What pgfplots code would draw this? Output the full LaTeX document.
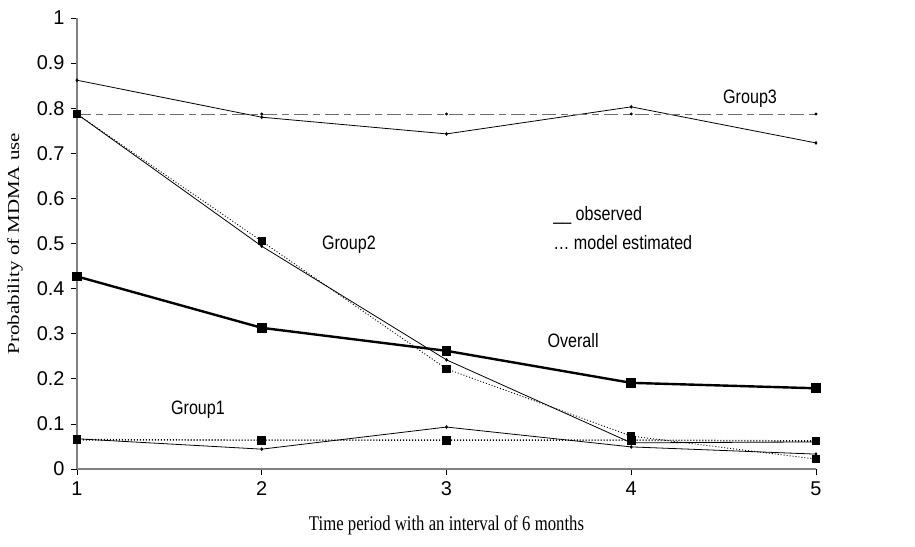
\documentclass[border=0pt]{standalone}
\usepackage{fontspec}
\setmainfont{Liberation Serif}
\setsansfont{Liberation Sans}
\usepackage{graphicx}
\usepackage{pgfplots}
\pgfplotsset{compat=1.18}
\definecolor{axisgray}{RGB}{128,128,128}
\definecolor{dashgray}{RGB}{110,110,110}
\newcommand{\TickFont}{\sffamily\fontsize{20}{22}\selectfont}
\newcommand{\NoteFont}{\sffamily\fontsize{19.5}{22}\selectfont}
\newcommand{\LabelFont}{\rmfamily\fontsize{21}{24}\selectfont}
\newcommand{\Note}[1]{\scalebox{0.83}[1]{#1}}
\tikzset{
  obs/.style={black, line width=0.8bp, mark=diamond*, mark size=1.3bp},
  est/.style={black, line width=1bp, dotted, mark=square*, mark size=3.6bp, mark options={solid}},
}

\begin{document}
\begin{tikzpicture}
\useasboundingbox (-77bp,-78bp) rectangle (838bp,469bp);
\begin{axis}[
    at={(0,0)}, anchor=south west,
    width=739bp, height=451bp, scale only axis,
    xmin=1, xmax=5, ymin=0, ymax=1,
    xtick={1,2,3,4,5},
    ytick={0,0.1,0.2,0.3,0.4,0.5,0.6,0.7,0.8,0.9,1},
    yticklabels={0,0.1,0.2,0.3,0.4,0.5,0.6,0.7,0.8,0.9,1},
    axis x line*=bottom, axis y line*=left,
    axis line style={draw=axisgray, line width=1.1bp, -},
    tick align=outside,
    major tick length=6bp,
    tick style={black, line width=0.6bp},
    x tick label style={font=\TickFont, yshift=-3bp},
    y tick label style={font=\TickFont, xshift=-3bp},
    /pgf/number format/assume math mode=true,
    xlabel={\scalebox{0.8}[1]{Time period with an interval of 6 months}},
    xlabel style={font=\LabelFont, at={(axis description cs:0.5,-0.124)}, anchor=center},
    ylabel={\scalebox{1}[0.8]{Probability of MDMA use}},
    ylabel style={font=\LabelFont, at={(axis description cs:-0.084,0.5)}, anchor=center, rotate=0},
    clip=false,
]
% Group3
\addplot[obs] coordinates {(1,0.862) (2,0.780) (3,0.743) (4,0.803) (5,0.723)};
\addplot[dashgray, line width=1.1bp, dash pattern=on 14bp off 5bp on 7bp off 5bp,
  mark=*, mark size=0.9bp, mark options={solid, black}]
  coordinates {(1,0.787) (2,0.787) (3,0.787) (4,0.787) (5,0.787)};
% Group2
\addplot[obs] coordinates {(1,0.787) (2,0.494) (3,0.242) (4,0.058) (5,0.060)};
\addplot[est, line width=0.9bp] coordinates {(1,0.787) (2,0.505) (3,0.222) (4,0.073) (5,0.022)};
% Overall
\addplot[black, line width=2.4bp, mark=square*, mark size=3.6bp]
  coordinates {(1,0.427) (2,0.313) (3,0.262) (4,0.191) (5,0.179)};
% Group1
\addplot[obs] coordinates {(1,0.067) (2,0.044) (3,0.093) (4,0.049) (5,0.033)};
\addplot[est, line width=1.6bp] coordinates {(1,0.065) (2,0.064) (3,0.064) (4,0.064) (5,0.062)};
% annotations
\node[font=\NoteFont] at (axis cs:4.643,0.820) {\Note{Group3}};
\node[font=\NoteFont] at (axis cs:2.472,0.497) {\Note{Group2}};
\node[font=\NoteFont] at (axis cs:3.685,0.284) {\Note{Overall}};
\node[font=\NoteFont] at (axis cs:1.655,0.131) {\Note{Group1}};
\node[font=\NoteFont, anchor=west, inner sep=0pt] at (axis cs:3.577,0.563) {\Note{\_\_ observed}};
\node[font=\NoteFont, anchor=west, inner sep=0pt] at (axis cs:3.577,0.503) {\Note{\dots\ model estimated}};
\end{axis}
\end{tikzpicture}
\end{document}
